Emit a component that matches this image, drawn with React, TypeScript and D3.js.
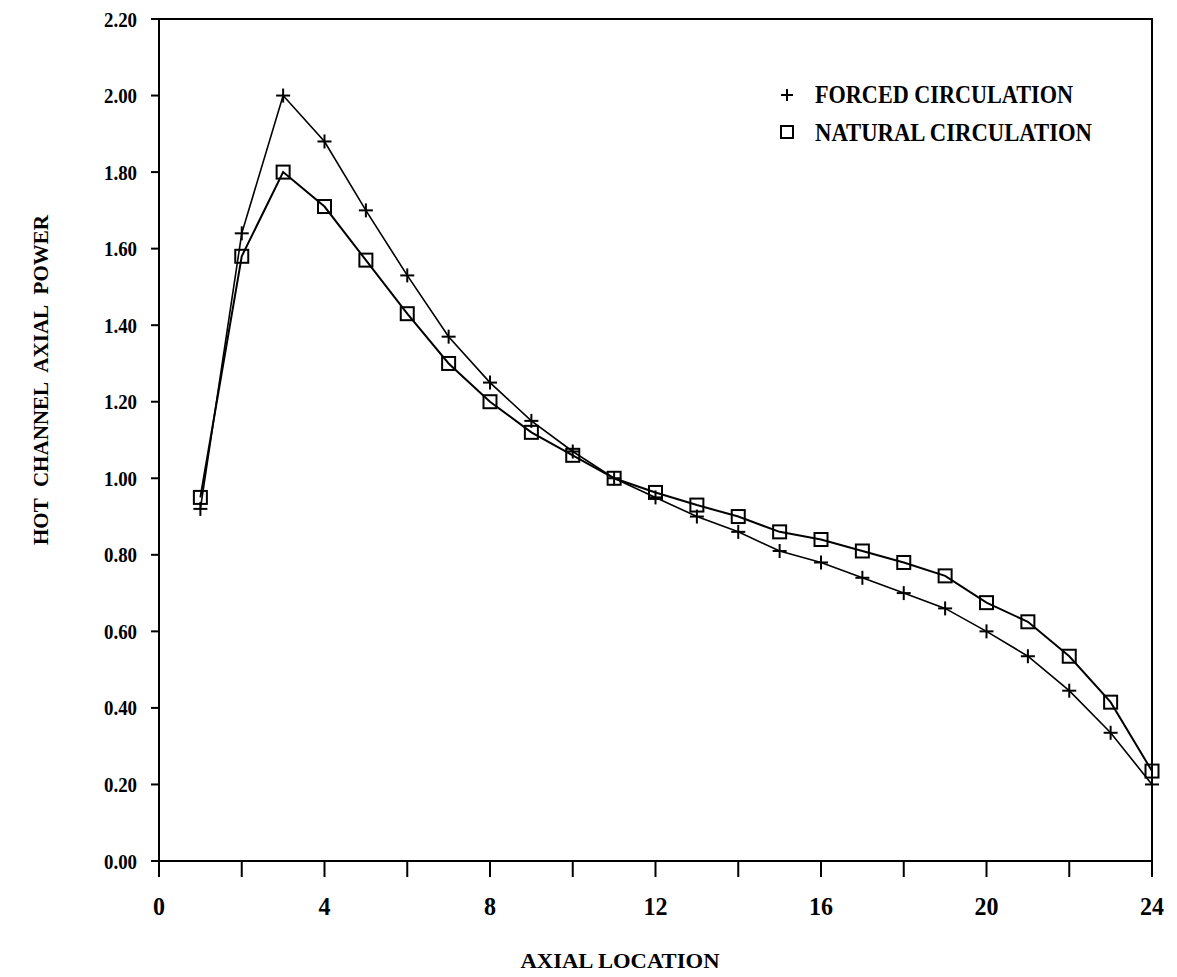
import * as d3 from "d3";

const axialLocation = [1, 2, 3, 4, 5, 6, 7, 8, 9, 10, 11, 12, 13, 14, 15, 16, 17, 18, 19, 20, 21, 22, 23, 24];
const forcedCirculation = [0.92, 1.64, 2.0, 1.88, 1.7, 1.53, 1.37, 1.25, 1.15, 1.07, 1.0, 0.95, 0.9, 0.86, 0.81, 0.78, 0.74, 0.7, 0.66, 0.6, 0.535, 0.445, 0.335, 0.2];
const naturalCirculation = [0.95, 1.58, 1.8, 1.71, 1.57, 1.43, 1.3, 1.2, 1.12, 1.06, 1.0, 0.963, 0.93, 0.9, 0.86, 0.84, 0.81, 0.78, 0.745, 0.675, 0.625, 0.535, 0.415, 0.235];
const yTicks = [0, 0.2, 0.4, 0.6, 0.8, 1.0, 1.2, 1.4, 1.6, 1.8, 2.0, 2.2];
const xLabelTicks = [0, 4, 8, 12, 16, 20, 24];
const xMinorTicks = [0, 2, 4, 6, 8, 10, 12, 14, 16, 18, 20, 22, 24];

const W = 1177;
const H = 977;
const LEFT = 159;
const RIGHT = 1152;
const TOP = 19;
const BOTTOM = 861;
const FONT = "'Liberation Serif', serif";

const Plus = ({ cx, cy, s = 7 }: { cx: number; cy: number; s?: number }) => (
  <g stroke="black" strokeWidth={2}>
    <line x1={cx - s} y1={cy} x2={cx + s} y2={cy} />
    <line x1={cx} y1={cy - s} x2={cx} y2={cy + s} />
  </g>
);

const Square = ({ cx, cy, s = 6.5 }: { cx: number; cy: number; s?: number }) => (
  <rect x={cx - s} y={cy - s} width={s * 2} height={s * 2} fill="none" stroke="black" strokeWidth={2} />
);

export default function App() {
  const x = d3.scaleLinear().domain([0, 24]).range([LEFT, RIGHT]);
  const y = d3.scaleLinear().domain([0, 2.2]).range([BOTTOM, TOP]);

  const line = d3
    .line<[number, number]>()
    .x(d => x(d[0]))
    .y(d => y(d[1]));

  const forced = axialLocation.map((a, i) => [a, forcedCirculation[i]] as [number, number]);
  const natural = axialLocation.map((a, i) => [a, naturalCirculation[i]] as [number, number]);

  return (
    <svg width={W} height={H} style={{ position: "absolute", left: 0, top: 0, background: "white" }}>
      <rect x={0} y={0} width={W} height={H} fill="white" />
      {/* frame */}
      <rect x={LEFT} y={TOP} width={RIGHT - LEFT} height={BOTTOM - TOP} fill="none" stroke="black" strokeWidth={2} />

      {/* y ticks + labels */}
      {yTicks.map(t => (
        <g key={"y" + t}>
          <line x1={LEFT - 8} x2={LEFT} y1={y(t)} y2={y(t)} stroke="black" strokeWidth={2} />
          <text
            x={137}
            y={y(t) + 7.5}
            textAnchor="end"
            fontFamily={FONT}
            fontWeight="bold"
            fontSize={21}
            textLength={33}
            lengthAdjust="spacingAndGlyphs"
          >
            {t.toFixed(2)}
          </text>
        </g>
      ))}

      {/* x ticks */}
      {xMinorTicks.map(t => (
        <line key={"xm" + t} x1={x(t)} x2={x(t)} y1={BOTTOM} y2={BOTTOM + 16} stroke="black" strokeWidth={2} />
      ))}
      {xLabelTicks.map(t => (
        <text
          key={"xl" + t}
          x={x(t)}
          y={915}
          textAnchor="middle"
          fontFamily={FONT}
          fontWeight="bold"
          fontSize={26}
          textLength={String(t).length * 12}
          lengthAdjust="spacingAndGlyphs"
        >
          {t}
        </text>
      ))}

      {/* axis titles */}
      <text
        x={620}
        y={968}
        textAnchor="middle"
        fontFamily={FONT}
        fontWeight="bold"
        fontSize={22}
        textLength={199}
        lengthAdjust="spacingAndGlyphs"
      >
        AXIAL LOCATION
      </text>
      <text
        transform="translate(48,380) rotate(-90)"
        textAnchor="middle"
        fontFamily={FONT}
        fontWeight="bold"
        fontSize={20}
        textLength={330}
        lengthAdjust="spacingAndGlyphs"
        wordSpacing={6}
      >
        HOT CHANNEL AXIAL POWER
      </text>

      {/* series */}
      <path d={line(forced) ?? ""} fill="none" stroke="black" strokeWidth={1.6} />
      <path d={line(natural) ?? ""} fill="none" stroke="black" strokeWidth={2} />
      {forced.map(d => (
        <Plus key={"f" + d[0]} cx={x(d[0])} cy={y(d[1])} />
      ))}
      {natural.map(d => (
        <Square key={"n" + d[0]} cx={x(d[0])} cy={y(d[1])} />
      ))}

      {/* legend */}
      <Plus cx={787} cy={95} s={6} />
      <text x={815} y={103} fontFamily={FONT} fontWeight="bold" fontSize={25} textLength={258} lengthAdjust="spacingAndGlyphs">
        FORCED CIRCULATION
      </text>
      <Square cx={787} cy={132} s={6} />
      <text x={815} y={141} fontFamily={FONT} fontWeight="bold" fontSize={25} textLength={277} lengthAdjust="spacingAndGlyphs">
        NATURAL CIRCULATION
      </text>
    </svg>
  );
}
